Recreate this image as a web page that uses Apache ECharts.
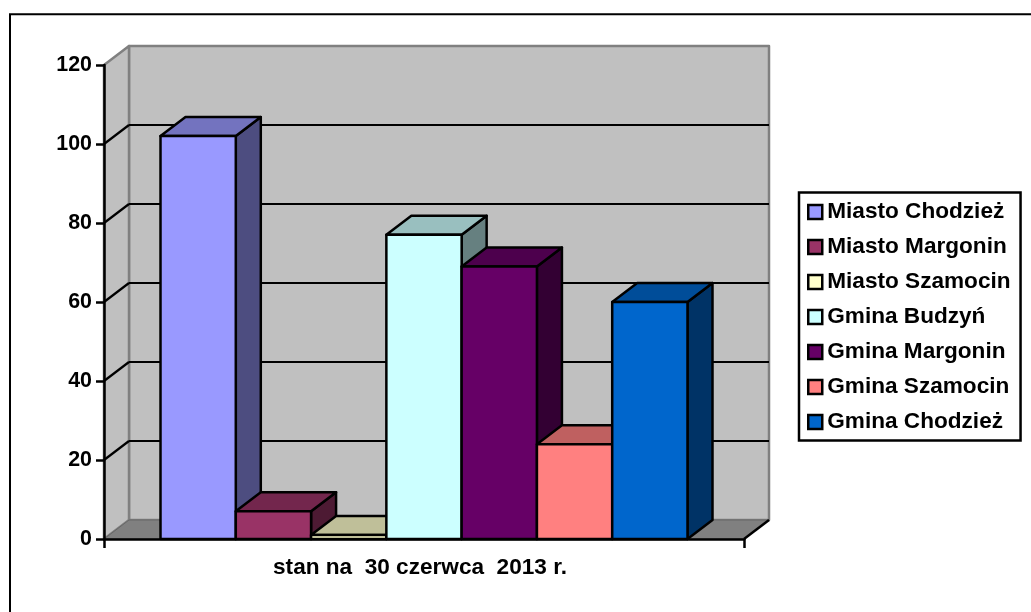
<!DOCTYPE html>
<html>
<head>
<meta charset="utf-8">
<style>html,body{margin:0;padding:0;background:#fff}#c{width:1031px;height:612px}</style>
<script src="https://cdn.jsdelivr.net/npm/echarts@6/dist/echarts.min.js"></script>
</head>
<body>
<div id="c"></div>
<script>
const categories = ['stan na  30 czerwca  2013 r.'];
const seriesNames = ['Miasto Chodzież','Miasto Margonin','Miasto Szamocin','Gmina Budzyń','Gmina Margonin','Gmina Szamocin','Gmina Chodzież'];
const seriesValues = [102, 7, 1, 77, 69, 24, 60];
const seriesColors = ['#9999FF','#993366','#FFFFCC','#CCFFFF','#660066','#FF8080','#0066CC'];
const yTicks = [0, 20, 40, 60, 80, 100, 120];

const DX = 25, DY = -19;
const BAR_FILL = 527 / 640;

function shade(hex, k) {
  const n = parseInt(hex.slice(1), 16);
  const c = [(n >> 16) & 255, (n >> 8) & 255, n & 255].map(v => Math.round(v * k));
  return 'rgb(' + c.join(',') + ')';
}
function poly(points, fill, stroke, lw) {
  return { type: 'polygon', shape: { points }, style: { fill, stroke, lineWidth: lw, lineJoin: 'round' } };
}
function line(a, b, stroke, lw) {
  return { type: 'line', shape: { x1: a[0], y1: a[1], x2: b[0], y2: b[1] }, style: { stroke, lineWidth: lw } };
}

function renderWalls(params, api) {
  const band = api.size([1, 0])[0];
  const cx = api.coord([0, 0])[0];
  const x0 = cx - band / 2, x1 = cx + band / 2;
  const yB = api.coord([0, 0])[1], yT = api.coord([0, yTicks[yTicks.length - 1]])[1];
  const ch = [];
  ch.push(poly([[x0 + DX, yT + DY], [x1 + DX, yT + DY], [x1 + DX, yB + DY], [x0 + DX, yB + DY]], '#C0C0C0', '#808080', 2.5));
  ch.push(poly([[x0, yT], [x0 + DX, yT + DY], [x0 + DX, yB + DY], [x0, yB]], '#C0C0C0', '#808080', 2.5));
  ch.push(poly([[x0, yB], [x0 + DX, yB + DY], [x1 + DX, yB + DY], [x1, yB]], '#808080', '#666666', 1));
  ch.push(line([x1, yB], [x1 + DX, yB + DY], '#000', 2.5));
  yTicks.slice(1, -1).forEach(v => {
    const y = api.coord([0, v])[1];
    ch.push(line([x0, y], [x0 + DX, y + DY], '#000', 2.2));
    ch.push(line([x0 + DX, y + DY], [x1 + DX, y + DY], '#000', 2.2));
  });
  return { type: 'group', children: ch };
}

function renderBar(index) {
  return function (params, api) {
    const band = api.size([1, 0])[0];
    const w = band * BAR_FILL / seriesNames.length;
    const base = api.coord([0, 0]);
    const top = api.coord([0, api.value(1)]);
    const l = base[0] - w * seriesNames.length / 2 + index * w;
    const r = l + w;
    const color = seriesColors[index];
    const yT = top[1], yB = base[1];
    return {
      type: 'group',
      children: [
        poly([[r, yT], [r + DX, yT + DY], [r + DX, yB + DY], [r, yB]], shade(color, 0.5), '#000', 2.5),
        poly([[l, yT], [l + DX, yT + DY], [r + DX, yT + DY], [r, yT]], shade(color, 0.75), '#000', 2.5),
        poly([[l, yT], [r, yT], [r, yB], [l, yB]], color, '#000', 2.5)
      ]
    };
  };
}

const series = [{
  type: 'custom',
  name: 'walls',
  z: 1,
  silent: true,
  renderItem: renderWalls,
  data: [[0, 0]],
  encode: { x: 0, y: 1 }
}];
seriesNames.forEach((name, i) => {
  series.push({
    type: 'custom',
    name,
    z: 2 + i,
    itemStyle: { color: seriesColors[i] },
    renderItem: renderBar(i),
    data: [[0, seriesValues[i]]],
    encode: { x: 0, y: 1 }
  });
});

const chart = echarts.init(document.getElementById('c'), null, { renderer: 'canvas' });
chart.setOption({
  animation: false,
  backgroundColor: '#fff',
  textStyle: { fontFamily: '"Liberation Sans", Arial, sans-serif' },
  grid: { left: 104, right: 287, top: 65, bottom: 73, containLabel: false },
  xAxis: {
    type: 'category',
    data: categories,
    z: 20,
    boundaryGap: true,
    axisLine: { show: true, lineStyle: { color: '#000', width: 2.5 } },
    axisTick: { show: true, alignWithLabel: false, length: 9, lineStyle: { color: '#000', width: 2.5 } },
    axisLabel: { color: '#000', fontWeight: 'bold', fontSize: 22.6, margin: 17, padding: [0, 8, 0, 0], fontFamily: '"Liberation Sans"' },
    splitLine: { show: false }
  },
  yAxis: {
    type: 'value',
    min: 0, max: 120, interval: 20,
    z: 20,
    axisLine: { show: true, lineStyle: { color: '#000', width: 2.5 } },
    axisTick: { show: true, length: 8, lineStyle: { color: '#000', width: 2.5 } },
    axisLabel: { color: '#000', fontWeight: 'bold', fontSize: 21.4, margin: 12, fontFamily: '"Liberation Sans"' },
    splitLine: { show: false }
  },
  legend: {
    show: true,
    orient: 'vertical',
    left: 799,
    top: 192.5,
    data: seriesNames,
    icon: 'rect',
    itemWidth: 14,
    itemHeight: 14,
    itemGap: 12,
    padding: [8, 10, 7, 8],
    borderColor: '#000',
    borderWidth: 2.5,
    backgroundColor: '#fff',
    selectedMode: false,
    itemStyle: { borderColor: '#000', borderWidth: 2.5 },
    textStyle: { color: '#000', fontWeight: 'bold', fontSize: 22.6, lineHeight: 22, fontFamily: '"Liberation Sans"' }
  },
  graphic: [{
    type: 'polyline', silent: true, z: -1,
    shape: { points: [[10, 612], [10, 14.3], [1031, 14.3]] },
    style: { fill: 'none', stroke: '#000', lineWidth: 2 }
  }],
  series
});
</script>
</body>
</html>
